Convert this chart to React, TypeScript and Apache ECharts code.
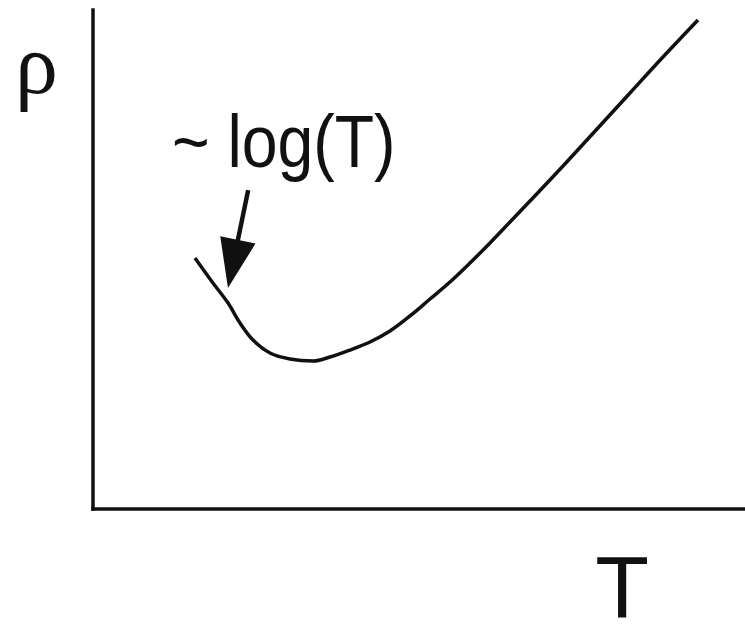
import React, { useEffect, useRef } from "react";
import * as echarts from "echarts";

// Schematic resistivity vs temperature curve (arbitrary units, 0..100)
const tValues = [15.64, 18.4, 20.71, 22.55, 24.54, 27.15, 30.21, 33.74, 36.35, 39.42, 42.48, 45.55, 48.62, 51.69, 54.75, 57.82, 60.89, 63.96, 67.02, 72.09, 77.3, 82.36, 87.42, 92.79];
const rhoValues = [50.3, 45.29, 41.28, 37.27, 33.87, 31.26, 30.06, 29.66, 30.46, 31.86, 33.47, 35.67, 38.68, 42.08, 45.49, 49.3, 53.31, 57.52, 61.72, 68.74, 76.15, 83.37, 90.58, 98.0];

// Annotation arrow (data coordinates): from label towards the curve
const arrowFrom = [23.8, 63.9];
const arrowTo = [20.7, 44.3];

const yAxisLabel = "ρ";
const xAxisLabel = "T";
const annotationText = "~ log(T)";

const INK = "#111111";

export default function App() {
  const ref = useRef<HTMLDivElement>(null);

  useEffect(() => {
    document.body.style.margin = "0";
    const chart = echarts.init(ref.current!, null, { renderer: "svg" });
    const axisCommon = {
      type: "value",
      min: 0,
      max: 100,
      axisLine: { show: true, onZero: false, lineStyle: { color: INK, width: 3.5, cap: "square" } },
      axisTick: { show: false },
      axisLabel: { show: false },
      splitLine: { show: false },
    };
    chart.setOption({
      animation: false,
      backgroundColor: "#ffffff",
      grid: { left: 93, right: 0, top: 10, bottom: 129 },
      xAxis: { ...axisCommon },
      yAxis: { ...axisCommon },
      series: [
        {
          type: "line",
          data: tValues.map((t, i) => [t, rhoValues[i]]),
          smooth: 0.35,
          showSymbol: false,
          symbol: "none",
          lineStyle: { color: INK, width: 3.5 },
        },
      ],
    });

    const p0 = chart.convertToPixel({ gridIndex: 0 }, arrowFrom) as number[];
    const p1 = chart.convertToPixel({ gridIndex: 0 }, arrowTo) as number[];
    const dx = p1[0] - p0[0];
    const dy = p1[1] - p0[1];
    const len = Math.sqrt(dx * dx + dy * dy);
    const ux = dx / len;
    const uy = dy / len;
    const headLen = 49;
    const headHalf = 18;
    const bx = p1[0] - ux * headLen;
    const by = p1[1] - uy * headLen;
    const nx = -uy;
    const ny = ux;

    chart.setOption({
      graphic: [
        {
          type: "line",
          shape: { x1: p0[0], y1: p0[1], x2: bx + ux * 4, y2: by + uy * 4 },
          style: { stroke: INK, lineWidth: 4.5 },
        },
        {
          type: "polygon",
          shape: {
            points: [
              [p1[0], p1[1]],
              [bx + nx * headHalf, by + ny * headHalf],
              [bx - nx * headHalf, by - ny * headHalf],
            ],
          },
          style: { fill: INK },
        },
        {
          type: "text",
          x: 172,
          y: 141,
          scaleX: 0.87,
          style: {
            text: annotationText,
            fontFamily: "'Liberation Sans', Arial, sans-serif",
            fontSize: 74,
            fill: INK,
            textAlign: "left",
            textVerticalAlign: "middle",
          },
        },
        {
          type: "text",
          x: 15,
          y: 64,
          style: {
            text: yAxisLabel,
            fontFamily: "'Liberation Serif', 'Times New Roman', serif",
            fontSize: 86,
            fill: INK,
            textAlign: "left",
            textVerticalAlign: "middle",
          },
        },
        {
          type: "text",
          x: 622,
          y: 586,
          style: {
            text: xAxisLabel,
            fontFamily: "'Liberation Sans', Arial, sans-serif",
            fontSize: 88,
            fill: INK,
            textAlign: "center",
            textVerticalAlign: "middle",
          },
        },
      ],
    });

    return () => {
      chart.dispose();
    };
  }, []);

  return (
    <div
      ref={ref}
      style={{ position: "fixed", left: 0, top: 0, width: 745, height: 638, background: "#fff" }}
    />
  );
}
